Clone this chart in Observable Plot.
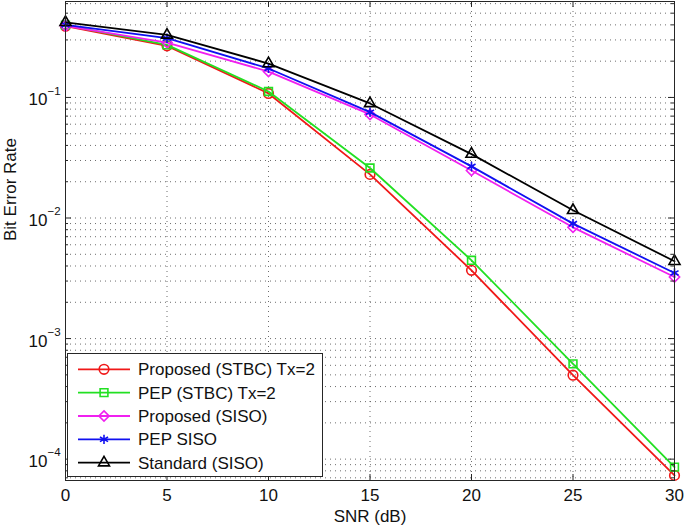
<!DOCTYPE html>
<html>
<head>
<meta charset="utf-8">
<script src="https://cdn.jsdelivr.net/npm/d3@7"></script>
<script src="https://cdn.jsdelivr.net/npm/@observablehq/plot@0.6"></script>
<style>
  html, body { margin: 0; padding: 0; background: #fff; }
  svg { display: block; }
</style>
</head>
<body>
<div id="chart"></div>
<script>
// ---- data ----
const snr = [0, 5, 10, 15, 20, 25, 30];
const proposedSTBC = [0.390, 0.268, 0.108, 0.0230, 0.00368, 0.000497, 0.0000733];
const pepSTBC      = [0.398, 0.273, 0.112, 0.0260, 0.00446, 0.000617, 0.0000859];
const proposedSISO = [0.392, 0.285, 0.164, 0.0723, 0.0248, 0.00837, 0.00324];
const pepSISO      = [0.400, 0.310, 0.174, 0.0755, 0.0268, 0.00898, 0.00350];
const standardSISO = [0.420, 0.330, 0.191, 0.0892, 0.0339, 0.01159, 0.00438];

const seriesNames = ["Proposed (STBC) Tx=2", "PEP (STBC) Tx=2", "Proposed (SISO)", "PEP SISO", "Standard (SISO)"];
const seriesValues = [proposedSTBC, pepSTBC, proposedSISO, pepSISO, standardSISO];
const seriesColors = ["#f01818", "#22e022", "#f020f0", "#1010f0", "#000000"];
const seriesSymbols = ["circle", "square", "diamond2", "asterisk", "triangle"];
const seriesR = [4.8, 4.4, 4.6, 4.4, 4.1];

const xTicks = [0, 5, 10, 15, 20, 25, 30];
const yDecades = [1e-1, 1e-2, 1e-3, 1e-4];
const yExponents = ["\u22121", "\u22122", "\u22123", "\u22124"];
const xLabel = "SNR (dB)";
const yLabel = "Bit Error Rate";
const yDomain = [6.65e-5, 0.625];

// ---- layout ----
const W = 685, H = 526;
const mL = 65, mR = 11, mT = 1, mB = 46;
const FW = W - mL - mR, FH = H - mT - mB;
const FONT = "'Liberation Sans', Arial, Helvetica, sans-serif";
const axisColor = "#262626";
const gridStyle = {stroke: "#555", strokeOpacity: 0.85, strokeDasharray: "1,4", strokeWidth: 1};

const yGrid = [];
for (let e = -5; e <= 0; e++) for (let k = 1; k <= 9; k++) {
  const v = k * Math.pow(10, e);
  if (v >= yDomain[0] && v <= yDomain[1]) yGrid.push(v);
}
const yMinor = yGrid.filter(v => !yDecades.includes(v));
const yMajor = yGrid.filter(v => yDecades.includes(v));

const table = [];
seriesValues.forEach((vals, s) => snr.forEach((x, i) => table.push({x, y: vals[i], s})));

const marks = [
  Plot.gridX(xTicks, gridStyle),
  Plot.gridY(yGrid, gridStyle),
];
seriesValues.forEach((vals, s) => {
  const rows = table.filter(d => d.s === s);
  marks.push(Plot.line(rows, {x: "x", y: "y", stroke: seriesColors[s], strokeWidth: 1.8}));
  marks.push(Plot.dot(rows, {x: "x", y: "y", symbol: () => seriesSymbols[s], r: seriesR[s],
    stroke: seriesColors[s], fill: "none", strokeWidth: 1.6}));
});
marks.push(
  // inward ticks
  Plot.tickX(xTicks, {x: d => d, insetTop: FH - 6, stroke: axisColor}),
  Plot.tickX(xTicks, {x: d => d, insetBottom: FH - 6, stroke: axisColor}),
  Plot.tickY(yMajor, {y: d => d, insetRight: FW - 6, stroke: axisColor}),
  Plot.tickY(yMajor, {y: d => d, insetLeft: FW - 6, stroke: axisColor}),
  Plot.tickY(yMinor, {y: d => d, insetRight: FW - 3, stroke: axisColor}),
  Plot.tickY(yMinor, {y: d => d, insetLeft: FW - 3, stroke: axisColor}),
  // tick labels
  Plot.text(xTicks, {x: d => d, frameAnchor: "bottom", text: d => String(d), dy: 15.5,
    lineAnchor: "middle", fontSize: 17, fill: "#111"}),
  Plot.text(yDecades, {y: d => d, frameAnchor: "left", text: () => "10", textAnchor: "end",
    dx: -18, dy: 2.5, lineAnchor: "middle", fontSize: 17, fill: "#111"}),
  Plot.text(yDecades, {y: d => d, frameAnchor: "left", text: (d, i) => yExponents[i], textAnchor: "start",
    dx: -18, dy: -6.5, lineAnchor: "middle", fontSize: 11.5, fill: "#111"}),
  // axis labels
  Plot.text([xLabel], {frameAnchor: "bottom", text: d => d, dy: 36.5, lineAnchor: "middle",
    fontSize: 17, fill: "#111"}),
  Plot.text([yLabel], {frameAnchor: "left", text: d => d, rotate: -90, dx: -55, lineAnchor: "middle",
    fontSize: 17, fill: "#111"}),
  Plot.frame({stroke: axisColor, strokeWidth: 1})
);

const chart = Plot.plot({
  width: W, height: H,
  marginLeft: mL, marginRight: mR, marginTop: mT, marginBottom: mB,
  x: {domain: [0, 30], axis: null},
  y: {type: "log", domain: yDomain, axis: null},
  style: {fontFamily: FONT, fontSize: "17px", background: "#fff"},
  marks
});
document.getElementById("chart").appendChild(chart);

// ---- legend inside the axes (south-west) ----
const svg = d3.select(chart);
const lg = svg.append("g").attr("class", "legend")
  .attr("font-family", FONT).attr("font-size", 17).attr("text-anchor", "start");
const box = {x: 67.5, y: 353.5, w: 255, h: 123};
lg.append("rect").attr("x", box.x).attr("y", box.y).attr("width", box.w).attr("height", box.h)
  .attr("fill", "#fff").attr("stroke", axisColor).attr("stroke-width", 1);
const symMap = {circle: d3.symbolCircle, square: d3.symbolSquare, diamond2: d3.symbolDiamond2,
  asterisk: d3.symbolAsterisk, triangle: d3.symbolTriangle};
seriesNames.forEach((name, s) => {
  const cy = 369.3 + s * 23.35;
  const row = lg.append("g");
  row.append("line").attr("x1", 78).attr("x2", 130).attr("y1", cy).attr("y2", cy)
    .attr("stroke", seriesColors[s]).attr("stroke-width", 1.8);
  row.append("path").attr("transform", `translate(104,${cy})`)
    .attr("d", d3.symbol(symMap[seriesSymbols[s]], seriesR[s] * seriesR[s] * Math.PI)())
    .attr("fill", "none").attr("stroke", seriesColors[s]).attr("stroke-width", 1.6);
  row.append("text").attr("x", 138).attr("y", cy).attr("dy", "0.35em")
    .attr("text-anchor", "start").attr("fill", "#111").text(name);
});
</script>
</body>
</html>
